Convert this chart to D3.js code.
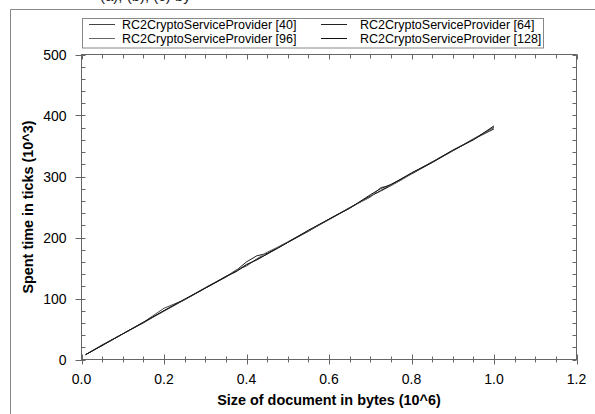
<!DOCTYPE html>
<html><head><meta charset="utf-8">
<script src="https://cdn.jsdelivr.net/npm/d3@7/dist/d3.min.js"></script>
<style>body{margin:0;background:#fff}svg{display:block}</style>
</head><body>
<script>
const xs = [0.01,0.05,0.1,0.15,0.2,0.25,0.3,0.35,0.375,0.4,0.425,0.45,0.475,0.5,0.55,0.6,0.65,0.7,0.725,0.75,0.775,0.8,0.85,0.9,0.95,1.0];
const s40  = [8,24,42,61,84,98,117,136,145,156,163,173,183,192,211,230,249,267,277,286,296,305,324,343,361,381];
const s64  = [8,23,42,60,80,98,117,135,146,160,170,174,183,192,210,230,248,268,276,285,295,304,323,342,361,378];
const s96  = [8,23,42,61,79,98,118,136,147,153,165,176,184,193,211,229,249,266,282,285,294,305,324,342,362,380];
const s128 = [8,23,42,61,80,99,117,136,144,155,164,173,182,192,212,230,248,270,280,287,296,306,323,343,360,383];
const seriesNames = ["RC2CryptoServiceProvider [40]","RC2CryptoServiceProvider [64]","RC2CryptoServiceProvider [96]","RC2CryptoServiceProvider [128]"];
const xTicks = [0,0.2,0.4,0.6,0.8,1.0,1.2];
const yTicks = [0,100,200,300,400,500];
const xTitle = "Size of document in bytes (10^6)";
const yTitle = "Spent time in ticks (10^3)";

const seriesVals = [s40,s64,s96,s128];
const colors = ["#444","#222","#666","#111"];

const W=595,H=414;
const svg=d3.select("body").append("svg").attr("width",W).attr("height",H);
const font="Liberation Sans, Arial, sans-serif";

// clipped caption remnant at top (cut off in the reference too)
svg.append("text").attr("x",100).attr("y",1).attr("font-family",font).attr("font-size",15)
  .attr("fill","#222").text("(a), (b), (c) by");

// outer frame
svg.append("path").attr("d","M10.5,414 V9.5 H595").attr("fill","none").attr("stroke","#888");

const x=d3.scaleLinear().domain([0,1.2]).range([81.5,576.5]);
const y=d3.scaleLinear().domain([0,500]).range([359.5,54.5]);
const axCol="#666";

svg.append("rect").attr("x",x(0)).attr("y",y(500)).attr("width",x(1.2)-x(0)).attr("height",y(0)-y(500))
  .attr("fill","none").attr("stroke",axCol);

const g=svg.append("g");
d3.range(0,1.2001,0.05).forEach(v=>{
  const major=Math.abs(v/0.2-Math.round(v/0.2))<1e-6;
  const px=Math.round(x(v))+0.5;
  g.append("line").attr("x1",px).attr("x2",px).attr("y1",y(0)-(major?5:3)).attr("y2",y(0)+(major?5:3)).attr("stroke",axCol);
  g.append("line").attr("x1",px).attr("x2",px).attr("y1",y(500)).attr("y2",y(500)+(major?5:4)).attr("stroke",axCol);
});
d3.range(0,500.001,20).forEach(v=>{
  const major=v%100===0;
  const py=Math.round(y(v))+0.5;
  g.append("line").attr("x1",x(0)-(major?6:0)).attr("x2",x(0)+4).attr("y1",py).attr("y2",py).attr("stroke",axCol);
  g.append("line").attr("x1",x(1.2)-4).attr("x2",x(1.2)).attr("y1",py).attr("y2",py).attr("stroke",axCol);
});

svg.append("g").selectAll("text").data(xTicks).join("text")
  .attr("x",d=>x(d)).attr("y",383.5).attr("text-anchor","middle").attr("font-family",font).attr("font-size",14)
  .text(d=>d3.format(".1f")(d));
svg.append("g").selectAll("text").data(yTicks).join("text")
  .attr("x",x(0)-15).attr("y",d=>y(d)+5).attr("text-anchor","end").attr("font-family",font).attr("font-size",14)
  .text(d=>d);

svg.append("text").attr("x",(x(0)+x(1.2))/2).attr("y",405).attr("text-anchor","middle")
  .attr("font-family",font).attr("font-size",14.4).attr("font-weight","bold").text(xTitle);
svg.append("text").attr("transform",`translate(33,${(y(0)+y(500))/2}) rotate(-90)`).attr("text-anchor","middle")
  .attr("font-family",font).attr("font-size",14.4).attr("font-weight","bold").text(yTitle);

const line=d3.line().x((d,i)=>x(xs[i])).y(d=>y(d));
svg.append("g").selectAll("path").data(seriesVals).join("path")
  .attr("d",d=>line(d)).attr("fill","none").attr("stroke",(d,i)=>colors[i]).attr("stroke-width",1);

// legend
const lg=svg.append("g");
lg.append("rect").attr("x",82.5).attr("y",18.5).attr("width",461).attr("height",29.5).attr("fill","#fff").attr("stroke","#888");
const cols=[[89,122],[321,360]], rows=[28.5,42.7];
seriesNames.forEach((n,i)=>{
  const c=cols[i%2], r=rows[Math.floor(i/2)];
  lg.append("line").attr("x1",c[0]).attr("x2",c[0]+26).attr("y1",Math.round(r-4.5)+0.5).attr("y2",Math.round(r-4.5)+0.5).attr("stroke",colors[i]);
  lg.append("text").attr("x",c[1]).attr("y",r).attr("font-family",font).attr("font-size",12.5).text(n);
});
</script>
</body></html>
